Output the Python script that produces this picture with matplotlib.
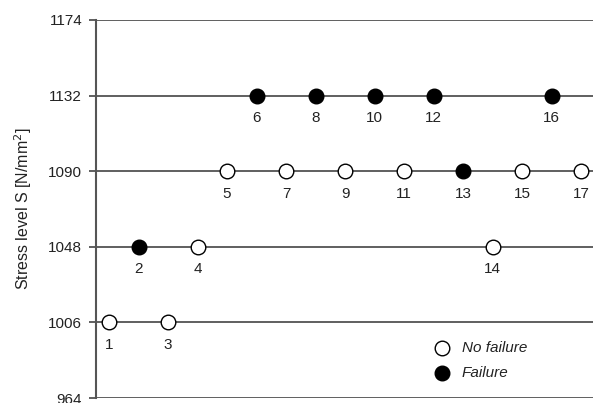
import matplotlib.pyplot as plt

# staircase test data
specimen = list(range(1, 18))
stress = [1006, 1048, 1006, 1048, 1090, 1132, 1090, 1132, 1090, 1132,
          1090, 1132, 1090, 1048, 1090, 1132, 1090]
failed = [0, 1, 0, 0, 0, 1, 0, 1, 0, 1, 0, 1, 1, 0, 0, 1, 0]
levels = [964, 1006, 1048, 1090, 1132, 1174]
legend_labels = ['No failure', 'Failure']

plt.rcParams['font.family'] = ['Liberation Sans', 'DejaVu Sans']

fig = plt.figure(figsize=(5.93, 4.03), dpi=100)
ax = fig.add_axes([0.162, 0.0124, 0.838, 0.9380])

for lv in levels:
    ax.axhline(lv, color='#444444', lw=1.2, zorder=1)

for x, y, f in zip(specimen, stress, failed):
    ax.plot(x, y, 'o', ms=10.5, mec='black', mew=1.0,
            mfc='black' if f else 'white', zorder=3)
    ax.text(x, y - 12.5, str(x), ha='center', va='center', fontsize=11,
            color='#222222')

ax.set_xlim(0.56, 17.4)
ax.set_ylim(964, 1174)
ax.set_yticks(levels)
ax.tick_params(axis='y', labelsize=11, length=5, width=1.2, pad=5,
               color='#444444', labelcolor='#222222')
ax.set_xticks([])
for s in ['top', 'right', 'bottom']:
    ax.spines[s].set_visible(False)
ax.spines['left'].set_color('#555555')
ax.spines['left'].set_linewidth(1.5)
ax.set_ylabel('Stress level S [N/mm$^2$]', fontsize=11.5, color='#222222',
              labelpad=10)

# legend drawn by hand (no frame)
for lab, fc, ly in zip(legend_labels, ['white', 'black'], [0.132, 0.066]):
    ax.plot(0.696, ly, 'o', ms=10.5, mec='black', mew=1.0, mfc=fc,
            transform=ax.transAxes, clip_on=False, zorder=3)
    ax.text(0.736, ly, lab, transform=ax.transAxes, ha='left', va='center',
            fontsize=11, style='italic', color='#222222')

fig.savefig('out.png', dpi=100)
